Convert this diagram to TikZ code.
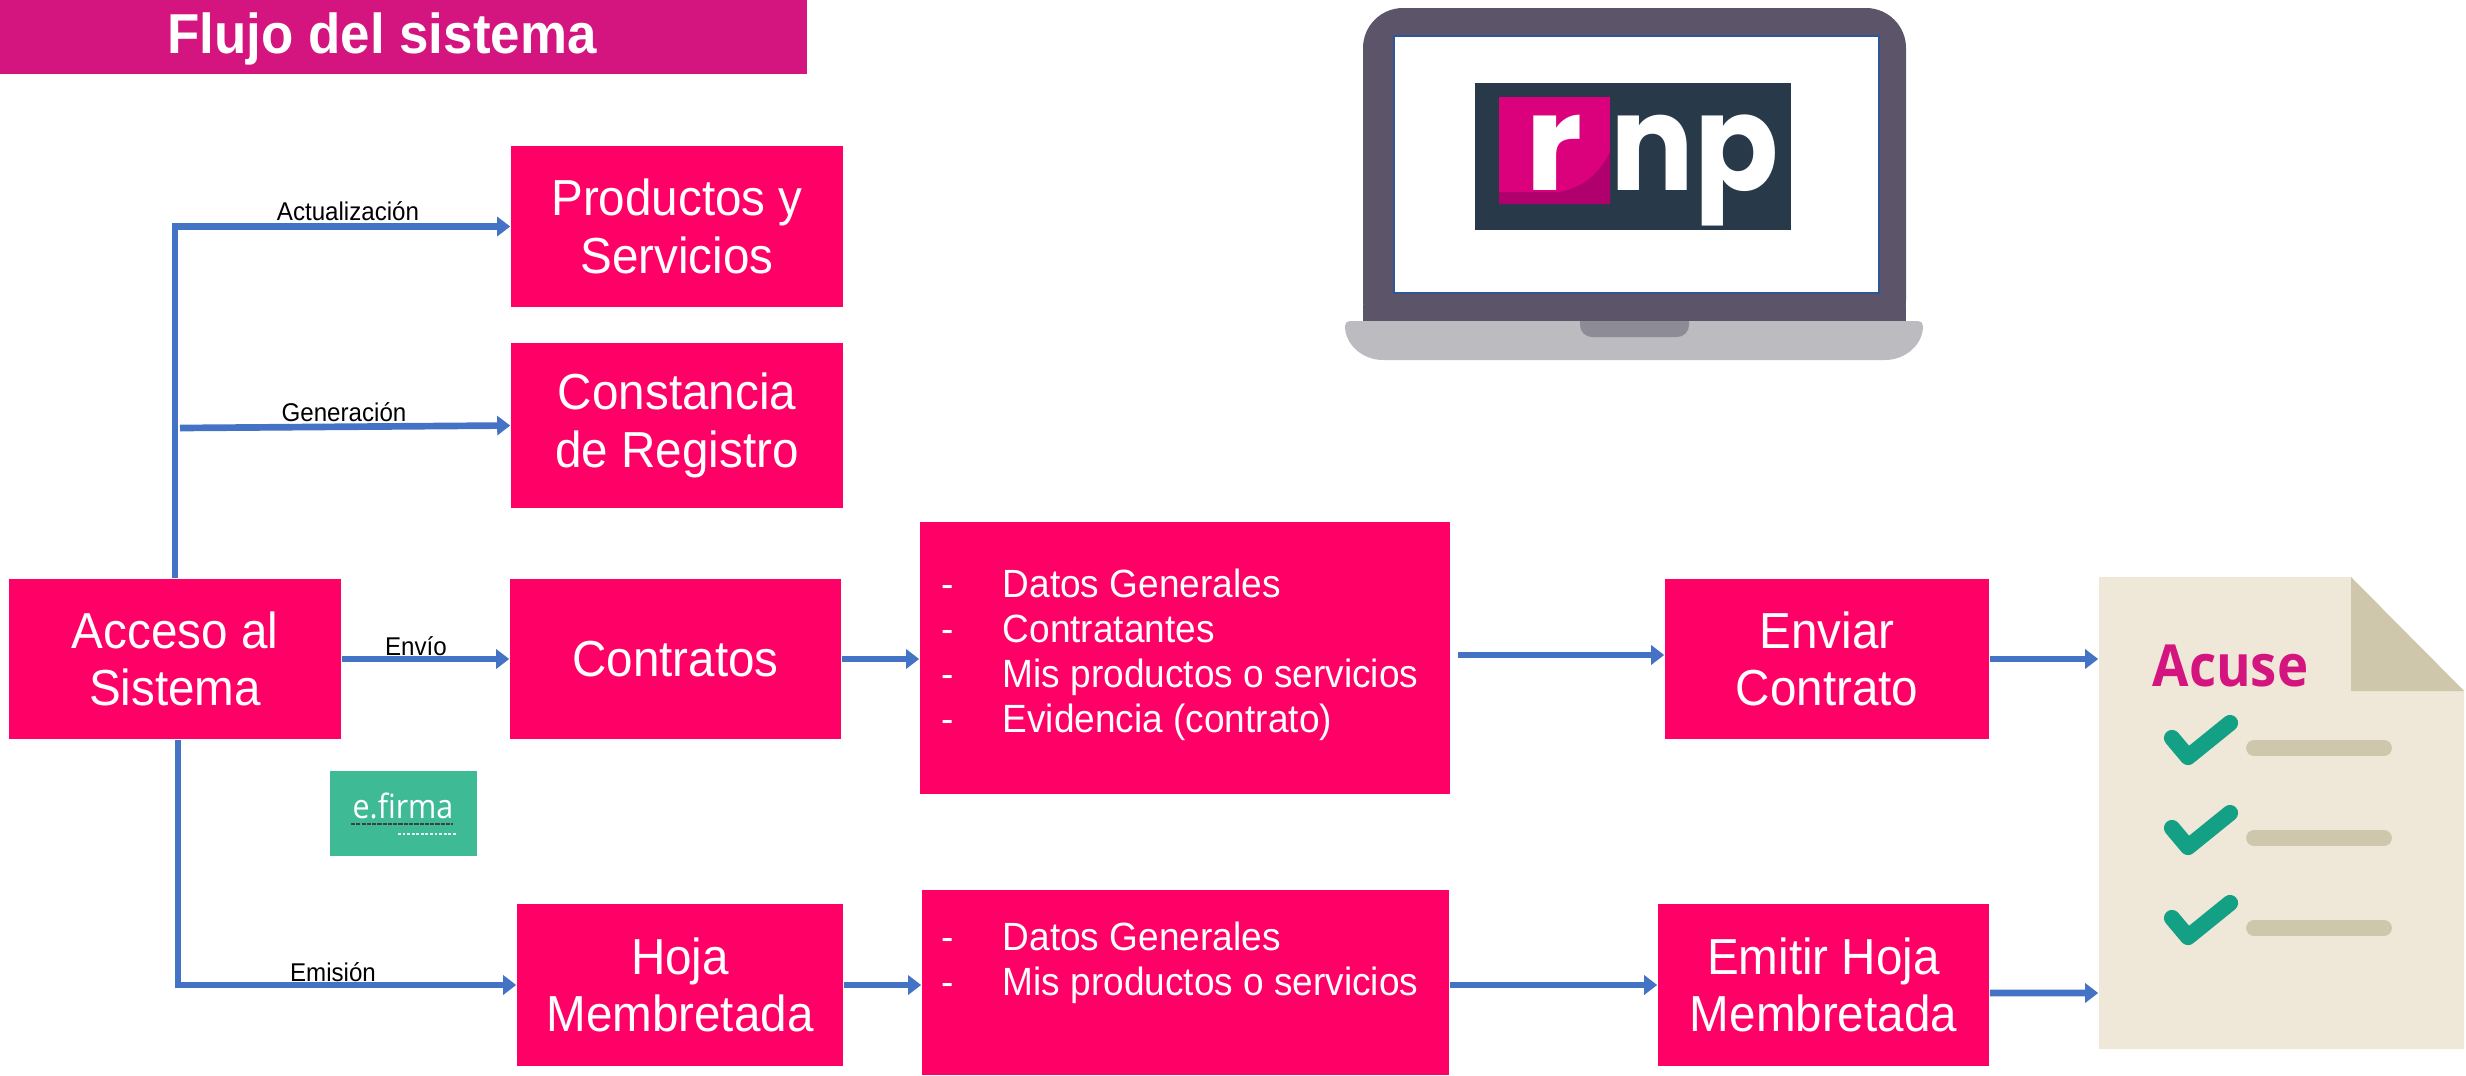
\documentclass[tikz,border=0pt]{standalone}
\usepackage{fontspec}
\setmainfont[FakeStretch=0.94]{Liberation Sans}
\newfontfamily\logofont{Poppins}
\newfontfamily\acusefont[FakeStretch=0.91]{Open Sans}
\usetikzlibrary{arrows.meta}
\definecolor{boxpink}{HTML}{FF0066}
\definecolor{barpink}{HTML}{D4157F}
\definecolor{flowblue}{HTML}{4472C4}
\definecolor{laptopdark}{HTML}{5C5469}
\definecolor{laptopbase}{HTML}{BBBBC0}
\definecolor{laptopnotch}{HTML}{8D8B96}
\definecolor{screenline}{HTML}{2F5597}
\definecolor{logodark}{HTML}{28394A}
\definecolor{logopink}{HTML}{DB007C}
\definecolor{logoshade}{HTML}{B0006E}
\definecolor{paper}{HTML}{EFE8D8}
\definecolor{paperfold}{HTML}{CEC7AC}
\definecolor{checkgreen}{HTML}{13A085}
\definecolor{firmagreen}{HTML}{3EBB95}
\tikzset{
    pinkbox/.style={fill=boxpink, text=white, inner sep=0pt, align=center, font=\fontsize{14.4}{16.4}\selectfont},
    drop/.style={execute at begin node={\rule{0pt}{#1}}},
    listtext/.style={text=white, inner sep=0pt, align=left, anchor=north west, font=\fontsize{11.2}{12.85}\selectfont},
    flow/.style={draw=flowblue, line width=1.9pt, -{Triangle[length=0.13cm,width=0.19cm]}},
    flowlabel/.style={inner sep=0pt, font=\fontsize{7.3}{8}\selectfont},
    tick/.style={draw=checkgreen, line width=4.6pt, line cap=round, line join=round},
    rule/.style={draw=paperfold, line width=4.5pt, line cap=round},
}
\begin{document}
\begin{tikzpicture}[x=0.01cm,y=-0.01cm]
    \useasboundingbox (0,0) rectangle (2466,1075);

    \node[fill=barpink, minimum width=8.07cm, minimum height=0.74cm, inner sep=0pt] (Bar) at (403.5,37) {};
    \node[text=white, inner sep=0pt, font=\fontsize{16}{18}\selectfont\bfseries] (Title) at (382,39) {Flujo del sistema};

    % laptop
    \fill[laptopdark, rounded corners=0.4cm] (1363,340) -- (1363,8) -- (1906,8) -- (1906,340) -- cycle;
    \fill[laptopbase] (1350,321) -- (1918,321) .. controls (1921,321) and (1923,323) .. (1923,326) .. controls (1923,345) and (1905,360) .. (1885,360) -- (1383,360) .. controls (1363,360) and (1345,345) .. (1345,326) .. controls (1345,323) and (1347,321) .. (1350,321) -- cycle;
    \fill[laptopnotch, rounded corners=0.12cm] (1580,310) -- (1580,337) -- (1689,337) -- (1689,310) -- cycle;
    \fill[laptopdark] (1363,305) rectangle (1906,321);
    \draw[screenline, line width=0.7pt, fill=white] (1394,36) rectangle (1879,293);
    \node[fill=logodark, minimum width=3.16cm, minimum height=1.47cm, inner sep=0pt] (Logo) at (1633,156.5) {};
    \fill[logopink] (1499,97) rectangle (1610,204);
    \fill[logoshade] (1499,192) -- (1560,192) .. controls (1585,187) and (1600,172) .. (1610,152) -- (1610,204) -- (1499,204) -- cycle;
    \node[text=white, inner sep=0pt, anchor=base, font=\logofont\fontsize{38}{38}\selectfont\bfseries] (LogoR) at (1554,190) {r};
    \node[text=white, inner sep=0pt, anchor=base, xscale=0.93, font=\logofont\fontsize{38}{38}\selectfont\bfseries] (LogoNP) at (1695,190) {np};

    % e.firma
    \node[fill=firmagreen, minimum width=1.47cm, minimum height=0.85cm, inner sep=0pt] (Firma) at (403.5,813.5) {};
    \node[text=white, inner sep=0pt, font=\acusefont\fontsize{9.5}{10}\selectfont] (FirmaT) at (403,806) {e.firma};
    \draw[black!75, line width=0.7pt, dash pattern=on 1.2pt off 0.3pt] (351,824) -- (453,824);
    \draw[white!85!firmagreen, line width=0.4pt, dash pattern=on 0.8pt off 0.5pt] (398,834) -- (456,834);

    % acuse
    \fill[paper] (2099,577) -- (2351,577) -- (2464,691) -- (2464,1049) -- (2099,1049) -- cycle;
    \fill[paperfold] (2351,577) -- (2464,691) -- (2351,691) -- cycle;
    \node[minimum width=3.65cm, minimum height=4.72cm, inner sep=0pt] (Doc) at (2281.5,813) {};
    \node[text=barpink, inner sep=0pt, anchor=base west, font=\acusefont\fontsize{16.5}{18}\selectfont\bfseries] (Acuse) at (2152,686) {Acuse};
    \foreach \dy in {0,90,180} {
        \draw[tick] (2172,738+\dy) -- (2188,757+\dy) -- (2230,723+\dy);
        \draw[rule] (2254,748+\dy) -- (2384,748+\dy);
    }

    \node[pinkbox, drop=13pt, minimum width=3.32cm, minimum height=1.61cm] (Prod) at (677,226.5) {Productos y\\Servicios};
    \node[pinkbox, drop=14pt, minimum width=3.32cm, minimum height=1.65cm] (Const) at (677,425.5) {Constancia\\de Registro};
    \node[pinkbox, drop=12.5pt, minimum width=3.32cm, minimum height=1.60cm] (Acc) at (175,659) {Acceso al\\Sistema};
    \node[pinkbox, minimum width=3.31cm, minimum height=1.60cm] (Contr) at (675.5,659) {Contratos};
    \node[pinkbox, minimum width=5.30cm, minimum height=2.72cm] (Dat) at (1185,658) {};
    \node[pinkbox, drop=12pt, minimum width=3.24cm, minimum height=1.60cm] (Env) at (1827,659) {Enviar\\Contrato};
    \node[pinkbox, drop=12.5pt, minimum width=3.26cm, minimum height=1.62cm] (Hoja) at (680,985) {Hoja\\Membretada};
    \node[pinkbox, minimum width=5.27cm, minimum height=1.85cm] (Mis) at (1185.5,982.5) {};
    \node[pinkbox, drop=12.5pt, minimum width=3.31cm, minimum height=1.62cm] (Emit) at (1823.5,985) {Emitir Hoja\\Membretada};

    \node[listtext] (DatT) at (941,568) {\makebox[0.61cm][l]{-}Datos Generales\\\makebox[0.61cm][l]{-}Contratantes\\\makebox[0.61cm][l]{-}Mis productos o servicios\\\makebox[0.61cm][l]{-}Evidencia (contrato)};
    \node[listtext] (MisT) at (941,921) {\makebox[0.61cm][l]{-}Datos Generales\\\makebox[0.61cm][l]{-}Mis productos o servicios};

    \coordinate (GenS) at (180,428);
    \coordinate (DatS) at (1458,655);

    \draw[flow] (Acc.north) |- (Prod.west);
    \draw[flow] (GenS) -- (Const.west);
    \draw[flow] (Acc.east) -- (Contr.west);
    \draw[flow] ([xshift=0.03cm]Acc.south) |- (Hoja.west);
    \draw[flow] (Contr.east) -- (Dat.west |- Contr.east);
    \draw[flow] (DatS) -- (Env.west |- DatS);
    \draw[flow] (Env.east) -- (Doc.west |- Env.east);
    \draw[flow] (Hoja.east) -- (Mis.west |- Hoja.east);
    \draw[flow] (Mis.east |- Hoja.east) -- (Emit.west);
    \draw[flow] ([yshift=-0.08cm]Emit.east) -- (Doc.west |- 0,993);

    \node[flowlabel] (Act) at (348,211) {Actualización};
    \node[flowlabel] (Gen) at (344,412) {Generación};
    \node[flowlabel] (Envio) at (416,646) {Envío};
    \node[flowlabel] (Emis) at (333,972) {Emisión};
\end{tikzpicture}
\end{document}
